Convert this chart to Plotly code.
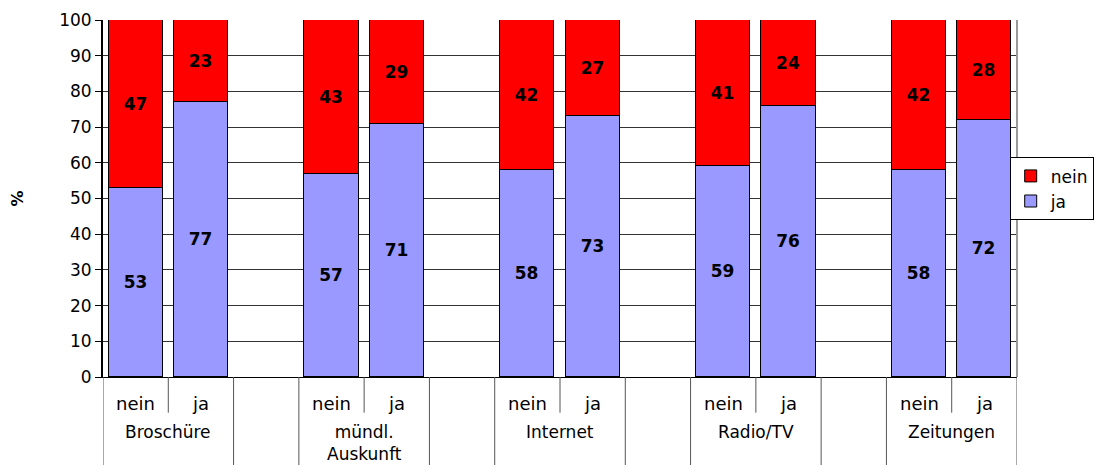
import plotly.graph_objects as go

groups = ["Broschüre", "mündl.<br>Auskunft", "Internet", "Radio/TV", "Zeitungen"]
subs = ["nein", "ja"]
ja_vals = [53, 77, 57, 71, 58, 73, 59, 76, 58, 72]
nein_vals = [47, 23, 43, 29, 42, 27, 41, 24, 42, 28]
y_ticks = [0, 10, 20, 30, 40, 50, 60, 70, 80, 90, 100]

FONT = "DejaVu Sans, Liberation Sans, Arial, sans-serif"

# slot positions: each group has nein, ja, then a blank slot
xpos = []
for g in range(len(groups)):
    for s in range(len(subs)):
        xpos.append(3 * g + s)

fig = go.Figure()
fig.add_trace(go.Bar(
    x=xpos, y=ja_vals, name="ja", width=0.83,
    marker=dict(color="#9999FF", line=dict(color="black", width=1)),
    text=[str(v) for v in ja_vals], textposition="inside", insidetextanchor="middle",
    textfont=dict(family=FONT, size=17, color="black", weight="bold"),
    hoverinfo="skip",
))
fig.add_trace(go.Bar(
    x=xpos, y=nein_vals, name="nein", width=0.83,
    marker=dict(color="#FF0000", line=dict(color="black", width=1)),
    text=[str(v) for v in nein_vals], textposition="inside", insidetextanchor="middle",
    textfont=dict(family=FONT, size=17, color="black", weight="bold"),
    hoverinfo="skip",
))

shapes = []
annotations = []
for g, name in enumerate(groups):
    left = 3 * g - 0.5
    mid = 3 * g + 0.5
    right = 3 * g + 1.5
    for xv in (left, right):
        shapes.append(dict(type="line", xref="x", yref="paper", x0=xv, x1=xv,
                           y0=0, y1=-0.25, line=dict(color="#555555", width=1)))
    shapes.append(dict(type="line", xref="x", yref="paper", x0=mid, x1=mid,
                       y0=0, y1=-0.1, line=dict(color="#555555", width=1)))
    for s, sub in enumerate(subs):
        annotations.append(dict(x=3 * g + s, y=-0.073, xref="x", yref="paper",
                                text=sub, showarrow=False, yanchor="middle",
                                font=dict(family=FONT, size=18, color="black")))
    annotations.append(dict(x=3 * g + 0.5, y=-0.12, xref="x", yref="paper",
                            text=name, showarrow=False, yanchor="top",
                            font=dict(family=FONT, size=17, color="black")))

# right border of plot area
shapes.append(dict(type="line", xref="paper", yref="paper", x0=1, x1=1, y0=0, y1=1,
                   line=dict(color="#999999", width=2)))

fig.update_layout(
    width=1098, height=457,
    margin=dict(l=95, r=85, t=12, b=88),
    paper_bgcolor="white", plot_bgcolor="white",
    barmode="stack", bargap=0,
    font=dict(family=FONT, size=16, color="black"),
    showlegend=True,
    legend=dict(x=0.992, y=0.527, xanchor="left", yanchor="middle",
                bordercolor="black", borderwidth=1, bgcolor="white",
                font=dict(family=FONT, size=17, color="black"),
                traceorder="reversed", itemwidth=30, tracegroupgap=0),
    shapes=shapes, annotations=annotations,
)
fig.update_xaxes(range=[-0.5, 13.5], showticklabels=False, ticks="",
                 showgrid=False, zeroline=False, showline=True, automargin=False,
                 linecolor="black", linewidth=1)
fig.update_yaxes(range=[0, 100], tickvals=y_ticks, ticks="outside", ticklen=6,
                 tickcolor="black", showline=True, linecolor="black", linewidth=2,
                 showgrid=True, gridcolor="#333333", gridwidth=1, zeroline=False,
                 automargin=False,
                 tickfont=dict(family=FONT, size=17, color="black"),
                 title=dict(text="<b>%</b>", font=dict(family=FONT, size=16), standoff=40))

fig.write_html("out.html")
